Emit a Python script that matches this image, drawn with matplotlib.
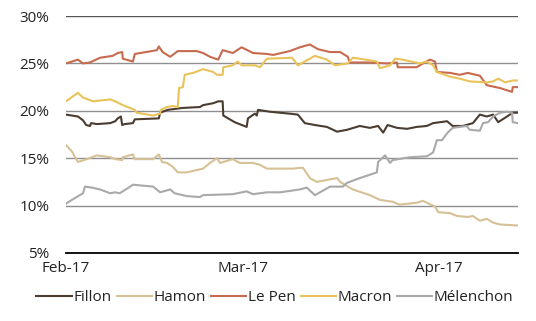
import pandas as pd
import matplotlib
matplotlib.use('Agg')
import matplotlib.pyplot as plt
import matplotlib.dates as mdates
from matplotlib.ticker import FuncFormatter

plt.rcParams['font.family'] = ['Open Sans', 'DejaVu Sans']

start = pd.Timestamp('2017-02-01')

# days since 1 Feb 2017 and poll share (%)
fillon_days = [0, 1.9, 2.7, 3.2, 3.8, 4.0, 4.9, 7.0, 7.8, 8.2, 8.7, 8.9, 9.3, 10.6, 10.9, 14.7,
               14.9, 16.1, 18.4, 21.2, 21.7, 23.3, 24.1, 24.8, 24.9, 26.7, 28.6, 28.8, 29.9, 30.2,
               30.4, 32.3, 35.4, 36.7, 37.8, 39.4, 41.3, 42.9, 44.5, 46.5, 48.1, 49.4, 50.2, 50.9,
               52.4, 54.0, 55.5, 57.1, 58.1, 60.3, 61.2, 62.8, 64.4, 65.5, 66.6, 67.6, 68.4, 69.8,
               70.7, 71.5]
fillon = [19.6, 19.4, 19.0, 18.5, 18.4, 18.7, 18.6, 18.7, 18.9, 19.2, 19.4, 18.5, 18.6, 18.7, 19.1, 19.2,
          19.8, 20.1, 20.3, 20.4, 20.6, 20.8, 21.0, 21.0, 19.5, 18.8, 18.3, 19.2, 19.7, 19.5,
          20.1, 19.9, 19.7, 19.6, 18.7, 18.5, 18.3, 17.8, 18.0, 18.4, 18.2, 18.4, 17.7, 18.5,
          18.2, 18.1, 18.3, 18.4, 18.7, 18.9, 18.4, 18.4, 18.7, 19.6, 19.4, 19.6, 18.8, 19.4,
          19.8, 19.8]

hamon_days = [0, 0.95, 1.9, 3.3, 4.9, 7.0, 7.8, 8.9, 9.0, 10.6, 10.9, 13.8, 14.7, 15.2, 16.0, 16.9,
              17.7, 19.1, 21.7, 22.8, 23.9, 24.4, 26.4, 27.5, 29.6, 30.7, 31.8, 35.9, 37.5, 38.6,
              39.7, 42.9, 43.4, 44.6, 45.4, 48.1, 49.7, 51.7, 52.8, 55.5, 56.5, 57.1, 58.4, 58.9,
              60.8, 61.9, 63.6, 64.4, 65.5, 66.6, 67.6, 68.7, 71.5]
hamon = [16.4, 15.7, 14.6, 14.9, 15.3, 15.1, 14.9, 14.8, 15.1, 15.4, 14.9, 14.9, 15.4, 14.6, 14.5, 14.1,
         13.5, 13.5, 13.9, 14.5, 15.0, 14.5, 14.9, 14.5, 14.5, 14.3, 13.9, 13.9, 14.0, 12.9,
         12.5, 12.9, 12.5, 12.0, 11.7, 11.1, 10.6, 10.4, 10.1, 10.3, 10.5, 10.3, 9.9, 9.3,
         9.2, 8.9, 8.8, 8.9, 8.4, 8.6, 8.2, 8.0, 7.9]

lepen_days = [0, 1.9, 2.7, 3.8, 5.4, 7.4, 8.2, 8.9, 9.0, 10.6, 10.9, 14.4, 14.7, 15.3, 16.5, 17.7,
              20.7, 21.7, 22.8, 24.1, 24.8, 26.4, 27.8, 29.6, 31.8, 32.8, 35.4, 37.0, 38.6, 39.9,
              41.8, 43.4, 44.6, 44.9, 48.1, 50.8, 52.4, 52.5, 55.5, 56.5, 57.6, 58.4, 58.7, 60.8,
              62.3, 63.6, 65.5, 66.6, 68.7, 70.6, 70.7, 71.5]
lepen = [25.0, 25.4, 25.0, 25.1, 25.6, 25.8, 26.1, 26.2, 25.5, 25.2, 26.0, 26.4, 26.8, 26.2, 25.7, 26.3,
         26.3, 26.1, 25.7, 25.4, 26.4, 26.1, 26.7, 26.1, 26.0, 25.9, 26.3, 26.7, 27.0, 26.5,
         26.2, 26.2, 25.7, 25.1, 25.1, 25.0, 25.1, 24.6, 24.6, 25.0, 25.4, 25.2, 24.1, 24.0,
         23.8, 24.0, 23.7, 22.7, 22.4, 22.0, 22.5, 22.5]

macron_days = [0, 1.9, 2.7, 4.3, 7.0, 7.8, 9.0, 10.9, 11.2, 13.8, 14.9, 15.0, 16.0, 16.9, 17.7, 17.9,
               18.5, 18.8, 20.1, 21.7, 23.3, 23.9, 24.8, 24.9, 26.4, 27.2, 27.8, 29.9, 30.7, 31.8,
               35.8, 36.7, 37.8, 39.4, 41.3, 42.6, 44.6, 45.4, 46.5, 49.2, 49.7, 51.3, 52.1, 53.3,
               56.0, 57.1, 58.1, 58.7, 60.8, 62.3, 63.9, 66.6, 67.6, 68.4, 69.5, 70.7, 71.5]
macron = [21.0, 21.9, 21.4, 21.0, 21.2, 21.0, 20.6, 20.1, 19.8, 19.5, 19.7, 20.1, 20.4, 20.5, 20.4, 22.4,
          22.5, 23.8, 24.0, 24.4, 24.1, 23.8, 23.8, 24.6, 24.8, 25.2, 24.8, 24.8, 24.6, 25.5,
          25.6, 24.8, 25.2, 25.8, 25.4, 24.8, 25.0, 25.6, 25.5, 25.2, 24.5, 24.8, 25.5, 25.4,
          25.0, 25.2, 24.8, 24.1, 23.6, 23.4, 23.1, 23.0, 23.1, 23.4, 23.0, 23.2, 23.2]

melenchon_days = [0, 0.95, 2.2, 2.7, 3.0, 4.1, 5.4, 7.0, 7.8, 8.5, 9.7, 10.6, 13.8, 14.9, 16.5, 17.2,
                  19.1, 21.2, 21.7, 26.4, 28.6, 29.6, 31.8, 33.9, 37.0, 38.1, 39.4, 41.8, 43.8, 44.5,
                  46.5, 49.2, 49.4, 50.5, 51.3, 51.7, 54.4, 57.1, 58.1, 58.7, 59.5, 60.4, 61.2, 63.4,
                  63.9, 65.5, 66.0, 66.8, 67.6, 68.7, 69.8, 70.6, 70.7, 71.5]
melenchon = [10.2, 10.6, 11.1, 11.3, 12.0, 11.9, 11.7, 11.3, 11.4, 11.3, 11.8, 12.2, 12.0, 11.4, 11.7, 11.3,
             11.0, 10.9, 11.1, 11.2, 11.5, 11.2, 11.4, 11.4, 11.7, 11.9, 11.1, 12.0, 12.0, 12.4,
             12.9, 13.5, 14.6, 15.3, 14.5, 14.8, 15.1, 15.2, 15.6, 16.9, 16.9, 17.7, 18.2, 18.4,
             18.0, 17.9, 18.7, 18.8, 19.4, 19.8, 19.9, 19.8, 18.8, 18.7]

series = [
    ('Fillon', fillon_days, fillon, '#4b3c30'),
    ('Hamon', hamon_days, hamon, '#d6c196'),
    ('Le Pen', lepen_days, lepen, '#c76a4e'),
    ('Macron', macron_days, macron, '#e9c35a'),
    ('Mélenchon', melenchon_days, melenchon, '#a9a9ab'),
]

fig = plt.figure(figsize=(5.36, 3.21), dpi=100)
ax = fig.add_axes([0.123, 0.212, 0.843, 0.738])

for y in [10, 15, 20, 25, 30]:
    ax.axhline(y, color='#8f8f8f' if y < 30 else '#555555', lw=1.0, zorder=1)

for name, days, vals, color in series:
    dates = start + pd.to_timedelta(days, unit='D')
    ax.plot(dates, vals, color=color, lw=1.5, label=name, zorder=3)

ax.set_ylim(5, 30)
ax.set_xlim(start, start + pd.Timedelta(days=71.5))
ax.set_yticks([5, 10, 15, 20, 25, 30])
ax.yaxis.set_major_formatter(FuncFormatter(lambda v, p: f'{v:.0f}%'))
ax.xaxis.set_major_locator(mdates.MonthLocator())
ax.xaxis.set_major_formatter(mdates.DateFormatter('%b-%y'))

for s in ['top', 'right', 'left']:
    ax.spines[s].set_visible(False)
ax.spines['bottom'].set_color('black')
ax.spines['bottom'].set_linewidth(1.3)
ax.tick_params(axis='both', length=0, labelsize=11, colors='#222222')
ax.tick_params(axis='y', pad=12)
ax.tick_params(axis='x', pad=6)

fig.legend(loc='center', bbox_to_anchor=(0.513, 0.072), ncol=5, frameon=False,
           fontsize=11, handlelength=2.3, handletextpad=0.1, columnspacing=0.35,
           labelcolor='#222222')

fig.savefig('out.png', dpi=100)
